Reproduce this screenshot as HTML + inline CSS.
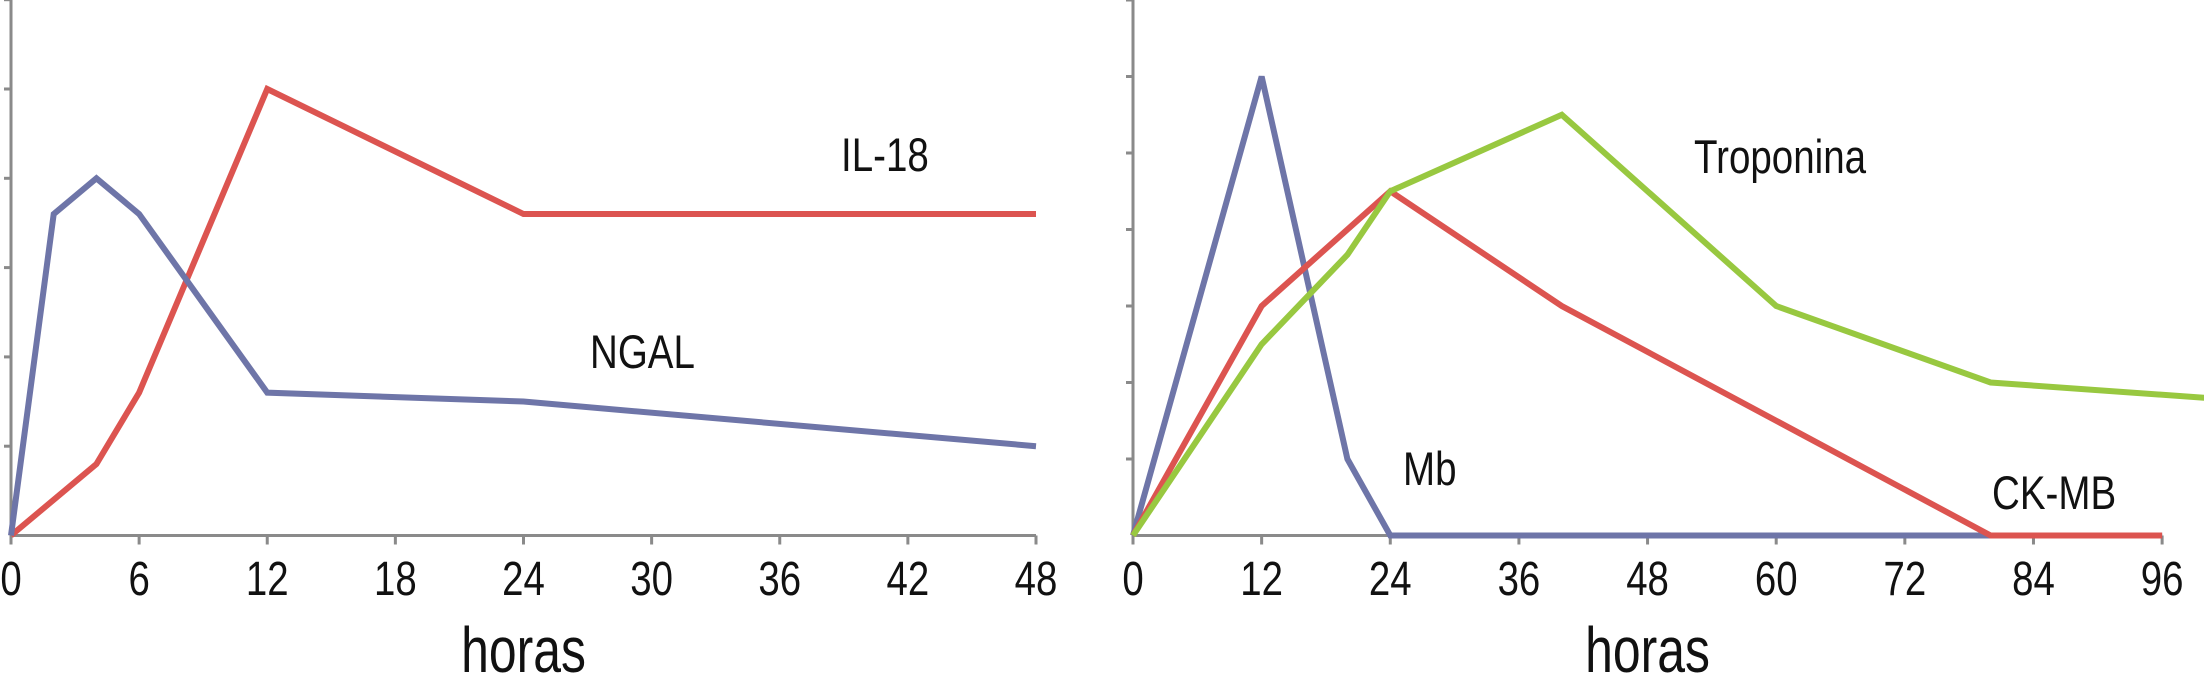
<!DOCTYPE html>
<html><head><meta charset="utf-8"><style>
html,body{margin:0;padding:0;background:#fff;}
svg{display:block;font-family:"Liberation Sans",Arial,sans-serif;}
</style></head><body>
<svg id="c" width="2204" height="697" viewBox="0 0 2204 697"></svg>
<script>
// Left chart data
const leftTicks = [0,6,12,18,24,30,36,42,48];
const il18X = [0,4,6,12,24,48];
const il18Y = [0,0.8,1.6,5,3.6,3.6];
const ngalX = [0,2,4,6,12,24,48];
const ngalY = [0,3.6,4,3.6,1.6,1.5,1.0];
// Right chart data
const rightTicks = [0,12,24,36,48,60,72,84,96];
const mbX = [0,12,20,24,96];
const mbY = [0,6,1,0,0];
const ckX = [0,12,24,40,60,80,96];
const ckY = [0,3,4.5,3,1.5,0,0];
const tropX = [0,12,20,24,40,60,80,100];
const tropY = [0,2.5,3.67,4.5,5.5,3,2,1.8];

const NS="http://www.w3.org/2000/svg";
const svg=document.getElementById('c');
function mk(tag,attrs,parent){const e=document.createElementNS(NS,tag);for(const k in attrs)e.setAttribute(k,attrs[k]);(parent||svg).appendChild(e);return e;}
function txt(g,s,x,y,size,sx,anchor){
  const t=mk('text',{x:0,y:0,'font-size':size,'text-anchor':anchor||'start',fill:'#111',transform:'translate('+x+','+y+') scale('+sx+',1)'},g);
  t.textContent=s;return t;
}

function chart(name,x0,pxPerX,y0,pxPerY,nY,xMax,ticks,series,labels){
  const g=mk('g',{});
  
  
  const sx=v=>x0+v*pxPerX, sy=v=>y0-v*pxPerY;
  const ax=mk('line',{x1:x0,y1:0,x2:x0,y2:y0,stroke:'#8a8a8a','stroke-width':3},g);
  
  
  for(let i=1;i<=nY;i++){mk('line',{x1:x0-7,y1:sy(i),x2:x0,y2:sy(i),stroke:'#8a8a8a','stroke-width':3},g);}
  const xa=mk('line',{x1:x0,y1:y0,x2:sx(xMax),y2:y0,stroke:'#8a8a8a','stroke-width':3},g);
  
  
  ticks.forEach(t=>{
    mk('line',{x1:sx(t),y1:y0,x2:sx(t),y2:y0+9,stroke:'#8a8a8a','stroke-width':3},g);
    const tx=txt(g,String(t),sx(t),595,48,0.8,'middle');
    
    
  });
  series.forEach(s=>{
    const pts=s.x.map((v,i)=>sx(v)+','+sy(s.y[i])).join(' ');
    const p=mk('polyline',{points:pts,fill:'none',stroke:s.c,'stroke-width':6,'stroke-linejoin':'miter'},g);
    
    
  });
  labels.forEach(l=>{
    const t=txt(g,l[0],l[1],l[2],47,0.82,'start');
    
    
  });
  const h=txt(g,'horas',sx(xMax/2),672,64,0.78,'middle');
  
  
}
chart('left-chart',11,(1036-11)/48,535.5,89.3,6,48,leftTicks,[
  {x:il18X,y:il18Y,c:'#dc5450',n:'il18-line'},
  {x:ngalX,y:ngalY,c:'#6e75a8',n:'ngal-line'}
],[['IL-18',841,171,'il18-label'],['NGAL',590,368,'ngal-label']]);
chart('right-chart',1133,10.72,535.5,76.5,7,96,rightTicks,[
  {x:mbX,y:mbY,c:'#6e75a8',n:'mb-line'},
  {x:ckX,y:ckY,c:'#dc5450',n:'ckmb-line'},
  {x:tropX,y:tropY,c:'#98c840',n:'troponina-line'}
],[['Troponina',1694,173,'troponina-label'],['Mb',1403,485,'mb-label'],['CK-MB',1992,509,'ckmb-label']]);
</script>
</body></html>
